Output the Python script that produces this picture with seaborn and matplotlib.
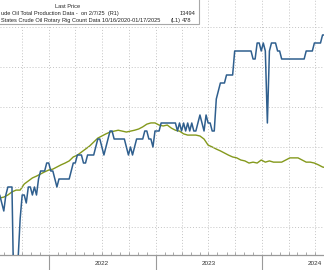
import numpy as np
import pandas as pd
import matplotlib
matplotlib.use("Agg")
import matplotlib.pyplot as plt
import matplotlib.dates as mdates
from matplotlib.patches import Rectangle
import seaborn as sns

# ---------------- data ----------------
prod_start = "2021-07-16"   # weekly production (R1), thousand b/d
prod_values = [
    11400, 11300, 11200, 11400, 11500, 11500, 11500, 10000, 10000, 10600,
    11100, 11400, 11400, 11300, 11500, 11500, 11400, 11500, 11400, 11600,
    11700, 11700, 11700, 11800, 11800, 11700, 11700, 11600, 11500, 11600,
    11600, 11600, 11600, 11600, 11600, 11700, 11800, 11800, 11900, 11900,
    11900, 11800, 11800, 11900, 11900, 11900, 11900, 12000, 12100, 12100,
    12000, 11900, 12000, 12100, 12200, 12200, 12100, 12100, 12100, 12100,
    12100, 12100, 12000, 11900, 12000, 11900, 12000, 12100, 12100, 12100,
    12100, 12200, 12200, 12100, 12100, 12000, 12200, 12200, 12200, 12300,
    12300, 12300, 12300, 12300, 12300, 12300, 12300, 12200, 12300, 12200,
    12300, 12200, 12300, 12200, 12300, 12200, 12200, 12300, 12400, 12300,
    12200, 12400, 12300, 12300, 12200, 12200, 12600, 12700, 12800, 12800,
    12800, 12900, 12900, 12900, 12900, 13200, 13200, 13200, 13200, 13200,
    13200, 13200, 13200, 13200, 13100, 13100, 13300, 13300, 13200, 13300,
    13200, 12300, 13200, 13300, 13300, 13300, 13200, 13200, 13100, 13100,
    13100, 13100, 13100, 13100, 13100, 13100, 13100, 13100, 13100, 13100,
    13200, 13200, 13200, 13200, 13300, 13300, 13300, 13300, 13400, 13400,
]
rig_start = "2021-07-16"    # rig count (L1), every second week
rig_values = [
    380, 383, 390, 400, 406, 406, 426, 436, 446, 452,
    459, 466, 472, 475, 482, 489, 495, 502, 515, 521,
    531, 541, 551, 564, 577, 584, 591, 597, 600, 603,
    600, 597, 600, 603, 607, 614, 623, 627, 627, 620,
    617, 620, 610, 603, 600, 591, 587, 587, 587, 584,
    574, 554, 548, 541, 535, 528, 521, 515, 512, 505,
    502, 495, 498, 495, 505, 498, 502, 498, 498, 498,
    505, 512, 512, 512, 505, 498, 498, 495, 489, 482, 479,
]
year_labels = ["2022", "2023", "2024"]
legend_header = "Last Price"
legend_names = ["ude Oil Total Production Data -  on 2/7/25  (R1)",
                "States Crude Oil Rotary Rig Count Data 10/16/2020-01/17/2025"]
legend_axis = ["(R1)", "(L1)"]
legend_last = ["13494", "478"]

prod = pd.DataFrame({"date": pd.date_range(prod_start, periods=len(prod_values), freq="7D"),
                     "value": prod_values})
rigs = pd.DataFrame({"date": pd.date_range(rig_start, periods=len(rig_values), freq="14D"),
                     "value": rig_values})

BLUE = "#2f5f8e"
GREEN = "#84991c"
GRID = "#c4c4c4"
AXIS = "#9a9a9a"

# ---------------- figure ----------------
sns.set_theme(style="white")
plt.rcParams["font.family"] = ["Liberation Sans", "DejaVu Sans"]
W, H = 324, 270
fig = plt.figure(figsize=(W / 100, H / 100), dpi=100)
fig.patch.set_facecolor("white")

ax = fig.add_axes([0, 1 - 255 / H, 1, 255 / H])
ax2 = ax.twinx()

sns.lineplot(data=rigs, x="date", y="value", ax=ax, color=GREEN, lw=1.0)
sns.lineplot(data=prod, x="date", y="value", ax=ax2, color=BLUE, lw=1.1)

ax.set_xlim(pd.Timestamp("2021-07-17"), pd.Timestamp("2024-07-31"))
ax.set_ylim(192.5, 1031.4)
ax2.set_ylim(10650, 13837.5)

for a in (ax, ax2):
    a.set_xlabel("")
    a.set_ylabel("")
    for s in ("left", "right", "top"):
        a.spines[s].set_visible(False)
    a.set_facecolor("none")
ax.spines["bottom"].set_color(AXIS)
ax.spines["bottom"].set_linewidth(0.9)
ax2.spines["bottom"].set_visible(False)

# grid: horizontal from R1 axis, vertical quarterly
ax2.set_yticks(np.arange(11000, 13600, 500))
ax2.grid(axis="y", color=GRID, ls=(0, (1, 2)), lw=0.7)
ax2.tick_params(axis="y", right=False, labelright=False, left=False)
ax.tick_params(axis="y", left=False, labelleft=False)
ax.set_yticks([])

ax.xaxis.set_major_locator(mdates.YearLocator())
ax.xaxis.set_minor_locator(mdates.MonthLocator())
ax.xaxis.set_major_formatter(plt.NullFormatter())
ax.tick_params(axis="x", which="major", direction="out", length=11, width=0.8,
               color=AXIS, labelbottom=False, bottom=True)
ax.tick_params(axis="x", which="minor", direction="in", length=2.5, width=0.6,
               color=AXIS, bottom=True)
for d in pd.date_range("2021-07-01", "2024-10-01", freq="QS"):
    ax.axvline(d, color=GRID, ls=(0, (1, 2)), lw=0.7, zorder=0)

sec = ax.secondary_xaxis("bottom")
sec.set_xticks([pd.Timestamp(f"{y}-07-01") for y in year_labels])
sec.set_xticklabels(year_labels)
sec.tick_params(length=0, pad=4.5, labelsize=4.6, labelcolor="#333333")
sec.spines["bottom"].set_visible(False)

# legend box (Bloomberg style)
fig.add_artist(Rectangle((-5 / W, 1 - 24 / H), 204 / W, 30 / H, transform=fig.transFigure,
                         facecolor="white", edgecolor="#a8a8a8", lw=0.8, zorder=10))
fs = 4.1
kw = dict(fontsize=fs, color="#222222", zorder=11, va="center")
fig.text(68 / W, 1 - 6 / H, legend_header, ha="center", **kw)
fig.text(1 / W, 1 - 13.5 / H, legend_names[0], ha="left", **kw)
fig.text(195 / W, 1 - 13.5 / H, legend_last[0], ha="right", **kw)
fig.text(1 / W, 1 - 20.5 / H, legend_names[1], ha="left", **kw)
fig.text(171 / W, 1 - 20.5 / H, legend_axis[1], ha="left", **kw)
fig.text(182 / W, 1 - 20.5 / H, legend_last[1], ha="left", **kw)

fig.savefig("out.png", dpi=100, facecolor="white")
